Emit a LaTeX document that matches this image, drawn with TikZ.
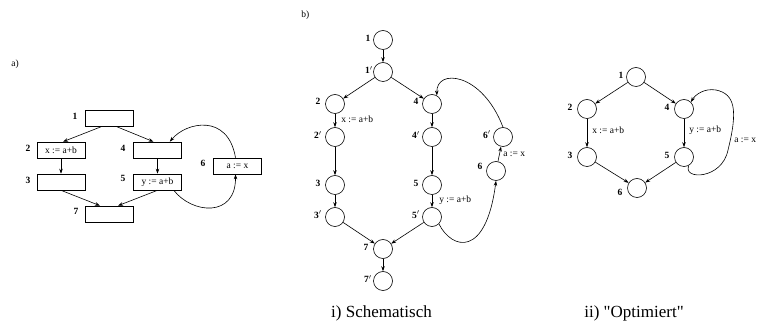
\documentclass[tikz,border=0pt]{standalone}
\usepackage{fontspec}
\setmainfont{Liberation Serif}
\usetikzlibrary{arrows.meta,calc}
\begin{document}
\begin{tikzpicture}[x=1pt,y=-1pt,
  every path/.style={line width=0.6pt},
  arr/.style={-{Stealth[length=5pt,width=3.5pt]}},
  blk/.style={draw,rectangle,minimum width=48pt,minimum height=16pt,inner sep=0pt,font=\fontsize{9.5}{10}\selectfont},
  cir/.style={draw,circle,minimum size=19pt,inner sep=0pt},
  num/.style={font=\fontsize{9.5}{10}\selectfont\bfseries,inner sep=0pt},
  lbl/.style={font=\fontsize{9.5}{10}\selectfont,inner sep=0pt,anchor=west},
  ttl/.style={font=\fontsize{17}{19}\selectfont,inner sep=0pt}]
\useasboundingbox (0,0) rectangle (760,328);
% ---------- a)
\node[lbl] (la) at (11,64) {a)};
\node[blk] (a1) at (109,118.5) {};
\node[blk] (a2) at (61,150) {x := a+b};
\node[blk] (a4) at (157.5,150) {};
\node[blk] (a3) at (61,182) {};
\node[blk] (a5) at (157.5,182) {y := a+b};
\node[blk] (a6) at (237.5,166) {a := x};
\node[blk] (a7) at (109,214) {};
\node[num] (na1) at (75,116) {1};
\node[num] (na2) at (28,148) {2};
\node[num] (na4) at (123,148) {4};
\node[num] (na3) at (28,180) {3};
\node[num] (na5) at (123,178) {5};
\node[num] (na6) at (203,163) {6};
\node[num] (na7) at (76,211) {7};
\draw[arr] ([xshift=-8pt]a1.south) -- ([xshift=2pt]a2.north);
\draw[arr] ([xshift=8pt]a1.south) -- ([xshift=-4pt]a4.north);
\draw[arr] (a2) -- (a3);
\draw[arr] (a4) -- (a5);
\draw[arr] (a3.south) -- ([xshift=-9pt]a7.north);
\draw[arr] (a5.south) -- ([xshift=9pt]a7.north);
\draw[arr] ([xshift=-8pt]a5.south east) .. controls (192,214) and (236,218) .. ([xshift=-2pt]a6.south);
\draw[arr] ([xshift=-2pt]a6.north) .. controls (228,113) and (186,122) .. ([xshift=-12pt]a4.north east);
% ---------- b)
\node[lbl] (lb) at (301,15) {b)};
\node[cir] (b1) at (383,40) {};
\node[cir] (b1p) at (383,72) {};
\node[cir] (b2) at (335,104) {};
\node[cir] (b4) at (432,104) {};
\node[cir] (b2p) at (335,137) {};
\node[cir] (b4p) at (432,137) {};
\node[cir] (b6p) at (503,137) {};
\node[cir] (b6) at (496,171) {};
\node[cir] (b3) at (335,185) {};
\node[cir] (b5) at (432,185) {};
\node[cir] (b3p) at (335,217) {};
\node[cir] (b5p) at (432,217) {};
\node[cir] (b7) at (383,249) {};
\node[cir] (b7p) at (383,281) {};
\node[num] at (368,38) {1};
\node[num] at (369,70) {1$'$};
\node[num] at (318,101) {2};
\node[num] at (416,101) {4};
\node[num] at (318,135) {2$'$};
\node[num] at (416,135) {4$'$};
\node[num] at (487,135) {6$'$};
\node[num] at (480,166) {6};
\node[num] at (318,183) {3};
\node[num] at (416,183) {5};
\node[num] at (318,215) {3$'$};
\node[num] at (416,215) {5$'$};
\node[num] at (366,247) {7};
\node[num] at (368,279) {7$'$};
\node[lbl] at (341,119) {x := a+b};
\node[lbl] at (439,200) {y := a+b};
\node[lbl] at (503,154) {a := x};
\draw[arr] (b1) -- (b1p);
\draw[arr] (b1p) -- (b2);
\draw[arr] (b1p) -- (b4);
\draw[arr] (b2) -- (b2p);
\draw[arr] (b4) -- (b4p);
\draw[arr] (b2p) -- (b3);
\draw[arr] (b4p) -- (b5);
\draw[arr] (b3) -- (b3p);
\draw[arr] (b5) -- (b5p);
\draw[arr] (b3p) -- (b7);
\draw[arr] (b5p) -- (b7);
\draw[arr] (b7) -- (b7p);
\draw[arr] (b6) -- (b6p);
\draw[arr] (b5p.-45) .. controls (452,250) and (486,258) .. (b6.south);
\draw[arr] (b6p.north) .. controls (482,72) and (436,68) .. (b4.60);
\node[ttl] (ti) at (381.5,313) {i) Schematisch};
% ---------- ii)
\node[cir] (c1) at (636,77) {};
\node[cir] (c2) at (587,109) {};
\node[cir] (c4) at (684,109) {};
\node[cir] (c3) at (587,157) {};
\node[cir] (c5) at (684,157) {};
\node[cir] (c6) at (637,188) {};
\node[num] at (621,75) {1};
\node[num] at (570,107) {2};
\node[num] at (667,107) {4};
\node[num] at (570,155) {3};
\node[num] at (667,155) {5};
\node[num] at (620,192) {6};
\node[lbl] at (592,130) {x := a+b};
\node[lbl] at (689,130) {y := a+b};
\node[lbl] at (734,140) {a := x};
\draw[arr] (c1) -- (c2);
\draw[arr] (c1) -- (c4);
\draw[arr] (c2) -- (c3);
\draw[arr] (c4) -- (c5);
\draw[arr] (c3) -- (c6);
\draw[arr] (c5) -- (c6);
\draw[arr] (c5.-60) .. controls (682,180) and (722,180) .. (728,150)
  .. controls (738,110) and (735,94) .. (716,90) .. controls (704,88) and (695,95) .. (c4.45);
\node[ttl] (tii) at (634,313) {ii) \textquotedbl Optimiert\textquotedbl};
\end{tikzpicture}
\end{document}
